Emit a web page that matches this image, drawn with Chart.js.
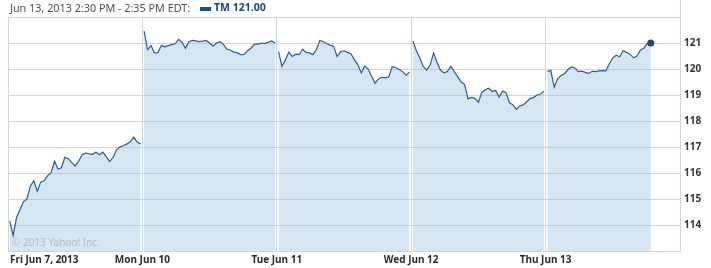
<!DOCTYPE html>
<html>
<head>
<meta charset="utf-8">
<script src="https://cdn.jsdelivr.net/npm/chart.js@4.4.0/dist/chart.umd.min.js"></script>
<style>
  body { margin: 0; background: #fff; }
  canvas { display: block; }
</style>
</head>
<body>
<canvas id="tmChart" width="711" height="268"></canvas>
<script>
// ----- data (10 minute steps) -----
var dayLabels = ['Fri Jun 7, 2013', 'Mon Jun 10', 'Tue Jun 11', 'Wed Jun 12', 'Thu Jun 13'];
var yTicks = [114, 115, 116, 117, 118, 119, 120, 121];

var friday = [114.15, 113.6, 114.3, 114.6, 114.9, 115.0, 115.5, 115.7, 115.3, 115.65,
  115.7, 115.9, 116.0, 116.45, 116.15, 116.2, 116.6, 116.55, 116.4, 116.27,
  116.45, 116.7, 116.76, 116.74, 116.72, 116.8, 116.7, 116.8, 116.63, 116.45,
  116.6, 116.9, 117.0, 117.05, 117.12, 117.2, 117.38, 117.18, 117.12];
var monday = [121.46, 120.75, 120.9, 120.62, 120.63, 120.9, 120.85, 120.9, 120.94, 120.97,
  121.14, 121.02, 120.8, 121.05, 121.1, 121.08, 121.05, 121.07, 121.1, 121.0,
  120.88, 121.0, 121.05, 120.95, 120.76, 120.73, 120.65, 120.63, 120.55, 120.56,
  120.7, 120.8, 120.96, 120.96, 121.0, 120.98, 121.03, 121.08, 121.0];
var tuesday = [120.67, 120.1, 120.35, 120.65, 120.48, 120.57, 120.55, 120.76, 120.64, 120.62,
  120.55, 120.75, 121.1, 121.05, 120.97, 120.92, 120.87, 120.48, 120.66, 120.7,
  120.64, 120.59, 120.36, 120.17, 119.85, 120.12, 120.0, 119.72, 119.45, 119.62,
  119.68, 119.66, 119.7, 120.09, 120.06, 119.98, 119.9, 119.76, 119.88];
var wednesday = [121.08, 120.7, 120.42, 120.1, 119.96, 120.15, 120.62, 120.25, 119.96, 119.85,
  119.9, 120.1, 119.9, 119.7, 119.5, 119.4, 118.85, 118.91, 118.87, 118.72,
  119.1, 119.2, 119.26, 119.13, 119.17, 118.92, 119.15, 119.1, 118.7, 118.63,
  118.45, 118.58, 118.62, 118.73, 118.87, 118.9, 119.0, 119.04, 119.15];
var thursday = [119.9, 119.95, 119.3, 119.62, 119.75, 119.82, 119.98, 120.08, 120.04, 119.9,
  119.92, 119.87, 119.83, 119.91, 119.9, 119.93, 119.94, 119.93, 120.2, 120.43,
  120.53, 120.47, 120.7, 120.64, 120.57, 120.43, 120.5, 120.72, 120.8, 120.98,
  121.0];

var days = [friday, monday, tuesday, wednesday, thursday];
var slotsPerDay = 78; // 5 minute slots in a session

// points in 5-min slots, one gap (null) between sessions
var points = [];
days.forEach(function (vals, d) {
  vals.forEach(function (v, i) {
    points.push({ x: d * slotsPerDay + 2 * i + 1, y: v });
  });
  if (d < days.length - 1) points.push({ x: (d + 1) * slotsPerDay, y: null });
});
var lastIndex = points.length - 1;

var gridColor = '#c9d5df';
var labelFont = { family: '"Noto Sans", sans-serif', size: 10, weight: 'bold' };

// header, copyright and first date label
const decorations = {
  id: 'decorations',
  afterDraw: function (chart) {
    const ctx = chart.ctx;
    const area = chart.chartArea;
    ctx.save();
    ctx.textBaseline = 'middle';
    ctx.font = '10.8px "Noto Sans", sans-serif';
    ctx.fillStyle = '#505050';
    ctx.fillText('Jun 13, 2013 2:30 PM - 2:35 PM EDT:', 10, 8.5);
    ctx.fillStyle = '#1f4f8a';
    ctx.fillRect(200, 7, 11, 4);
    ctx.font = 'bold 10.5px "Noto Sans", sans-serif';
    ctx.fillStyle = '#1d4577';
    ctx.fillText('TM 121.00', 214, 8.5);

    ctx.font = '10px "Noto Sans", sans-serif';
    ctx.fillStyle = '#aebcc8';
    ctx.fillText('\u00a9 2013 Yahoo! Inc.', 12, 243);

    const xs = chart.scales.x;
    ctx.font = 'bold 10px "Noto Sans", sans-serif';
    ctx.fillStyle = '#2b2b2b';
    ctx.fillText(dayLabels[0], xs.getPixelForValue(0) + 2, 260);

    ctx.strokeStyle = gridColor;
    ctx.lineWidth = 1;
    ctx.beginPath();
    ctx.moveTo(area.right + 0.5, 0);
    ctx.lineTo(area.right + 0.5, area.top);
    ctx.stroke();
    ctx.restore();
  }
};

const config = {
  type: 'line',
  data: {
    datasets: [{
      label: 'TM',
      data: points,
      borderColor: '#2c5c96',
      borderWidth: 1.2,
      backgroundColor: 'rgba(150, 190, 220, 0.4)',
      fill: 'start',
      spanGaps: false,
      tension: 0,
      pointRadius: function (c) { return c.dataIndex === lastIndex ? 3.5 : 0; },
      pointBackgroundColor: '#1d4a80',
      pointBorderColor: '#1d4a80',
      pointBorderWidth: 0
    }]
  },
  options: {
    responsive: false,
    animation: false,
    layout: { padding: { left: 8, top: 17, right: 0, bottom: 0 } },
    plugins: { legend: { display: false }, tooltip: { enabled: false } },
    scales: {
      x: {
        type: 'linear',
        min: 0,
        max: 390,
        afterBuildTicks: function (scale) {
          scale.ticks = dayLabels.map(function (l, i) { return { value: i * slotsPerDay }; });
        },
        afterFit: function (scale) { scale.height = 17; },
        ticks: {
          autoSkip: false,
          maxRotation: 0,
          padding: 3,
          color: '#2b2b2b',
          font: labelFont,
          callback: function (v, i) { return i === 0 ? '' : dayLabels[i]; }
        },
        grid: { color: gridColor, drawTicks: false },
        border: { color: gridColor }
      },
      y: {
        position: 'right',
        min: 113,
        max: 122,
        afterBuildTicks: function (scale) {
          var t = [{ value: 113 }];
          yTicks.forEach(function (v) { t.push({ value: v }); });
          t.push({ value: 122 });
          scale.ticks = t;
        },
        afterFit: function (scale) { scale.width = 31; },
        ticks: {
          padding: 4,
          color: '#333333',
          font: labelFont,
          callback: function (v) { return yTicks.indexOf(v) >= 0 ? String(v) : ''; }
        },
        grid: { color: gridColor, drawTicks: false },
        border: { color: gridColor }
      }
    }
  },
  plugins: [decorations]
};

const tmChart = new Chart(document.getElementById('tmChart').getContext('2d'), config);
</script>
</body>
</html>
